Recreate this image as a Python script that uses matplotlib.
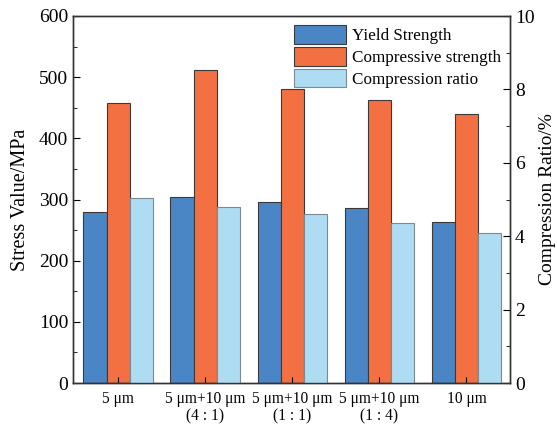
import numpy as np
import matplotlib.pyplot as plt
from matplotlib.ticker import MultipleLocator

plt.rcParams['font.family'] = ['Liberation Serif', 'DejaVu Serif']

# dados
grupos = ['5 μm', '5 μm+10 μm\n(4 : 1)', '5 μm+10 μm\n(1 : 1)', '5 μm+10 μm\n(1 : 4)', '10 μm']
escoamento = [279, 304, 296, 286, 264]      # Yield Strength (MPa)
compressao = [457, 512, 481, 463, 440]      # Compressive strength (MPa)
razao = [5.05, 4.79, 4.60, 4.37, 4.10]      # Compression ratio (%)

cor_azul = '#4A86C5'
cor_laranja = '#F37042'
cor_claro = '#AEDCF3'
borda = '#3a3a3a'

x = np.arange(len(grupos))
w = 0.267

fig = plt.figure(figsize=(5.57, 4.30), dpi=100)
ax = fig.add_axes([73/557, 1 - 383/430, 437/557, 367/430])
ax2 = ax.twinx()

b1 = ax.bar(x - w, escoamento, w, color=cor_azul, edgecolor=borda, linewidth=0.8, label='Yield Strength')
b2 = ax.bar(x, compressao, w, color=cor_laranja, edgecolor=borda, linewidth=0.8, label='Compressive strength')
b3 = ax2.bar(x + w, razao, w, color=cor_claro, edgecolor='#7a8a95', linewidth=0.8, label='Compression ratio')

ax.set_xlim(-0.52, 4.5)
ax.set_ylim(0, 600)
ax2.set_ylim(0, 10)

ax.yaxis.set_major_locator(MultipleLocator(100))
ax.yaxis.set_minor_locator(MultipleLocator(50))
ax2.yaxis.set_major_locator(MultipleLocator(2))
ax2.yaxis.set_minor_locator(MultipleLocator(1))

ax.set_xticks(x)
ax.set_xticklabels(grupos, fontsize=11.2, linespacing=1.05)
ax.tick_params(axis='x', direction='in', length=4, pad=6)
ax.tick_params(axis='y', which='major', direction='in', length=5, labelsize=14)
ax.tick_params(axis='y', which='minor', direction='in', length=3)
ax2.tick_params(axis='y', which='major', direction='in', length=5, labelsize=14)
ax2.tick_params(axis='y', which='minor', direction='in', length=3)

ax.set_ylabel('Stress Value/MPa', fontsize=14.5, labelpad=6)
ax2.set_ylabel('Compression Ratio/%', fontsize=14, labelpad=3)

for a in (ax, ax2):
    for s in a.spines.values():
        s.set_color('#333333')
        s.set_linewidth(1.0)

ax.legend(handles=[b1, b2, b3], loc='upper right', frameon=False, fontsize=12.3,
          handlelength=3.0, handleheight=1.3, handletextpad=0.35, labelspacing=0.15,
          borderaxespad=0.15)

fig.savefig('out.png', dpi=100)
